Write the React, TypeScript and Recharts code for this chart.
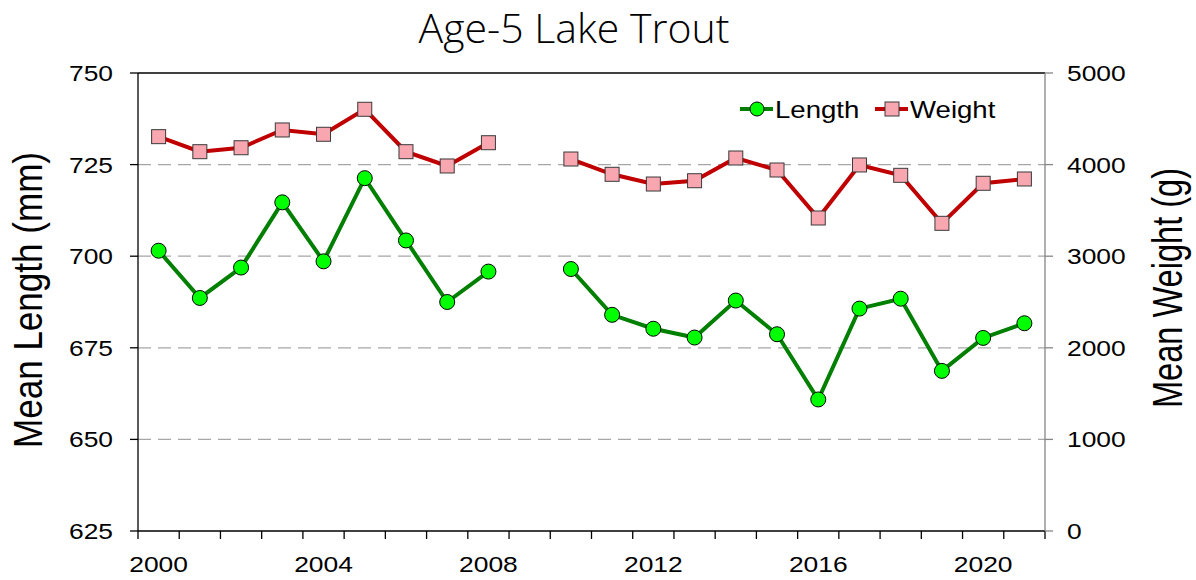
import React from "react";
import { LineChart, Line, XAxis, YAxis, CartesianGrid, ReferenceLine, Legend } from "recharts";

// values (2009 has no sample)
const years = [2000, 2001, 2002, 2003, 2004, 2005, 2006, 2007, 2008, 2009, 2010, 2011, 2012, 2013, 2014, 2015, 2016, 2017, 2018, 2019, 2020, 2021];
const lengthMm = [701.5, 688.6, 696.9, 714.7, 698.6, 721.3, 704.3, 687.5, 695.8, null, 696.5, 684.0, 680.2, 677.8, 687.9, 678.7, 660.9, 685.7, 688.4, 668.7, 677.7, 681.7];
const weightG = [4305, 4141, 4184, 4378, 4331, 4604, 4141, 3985, 4239, null, 4061, 3894, 3788, 3824, 4072, 3941, 3417, 3996, 3883, 3359, 3796, 3843];

const lengthTicks = [625, 650, 675, 700, 725, 750];
const weightTicks = [0, 1000, 2000, 3000, 4000, 5000];
const gridLengths = [650, 675, 700, 725];
const labelYears = [2000, 2004, 2008, 2012, 2016, 2020];

const data = years.map((year, i) => ({ year, length: lengthMm[i], weight: weightG[i] }));
// tick marks sit between the years, like a category axis
const yearEdges = [...years.map((y) => y - 0.5), years[years.length - 1] + 0.5];

const W = 1196;
const H = 580;
const MARGIN = { top: 73, right: 51, bottom: 9, left: 38 };
const AXIS_W = 100;
const PLOT_W = W - MARGIN.left - MARGIN.right - AXIS_W * 2;
const HALF_STEP = PLOT_W / years.length / 2;

const ARIAL = "'Liberation Sans', Arial, sans-serif";
const STRETCH = 1.2;
const LEN_LINE = "#007f00";
const LEN_DOT = "#00ff00";
const WT_LINE = "#c00000";
const WT_DOT = "#f8a6af";
const GRID = "#a6a6a6";
const RIGHT_AXIS = "#868686";

function YearTick(props: any) {
    const { x, y, payload } = props;
    const year = payload.value + 0.5;
    if (!labelYears.includes(year)) return <g />;
    return (
        <text transform={`translate(${x + HALF_STEP},${y + 33}) scale(${STRETCH},1)`} textAnchor="middle" fontSize={22} fontFamily={ARIAL} fill="#000">
            {year}
        </text>
    );
}

function LengthTick(props: any) {
    const { x, y, payload } = props;
    return (
        <text transform={`translate(${x - 17},${y + 8}) scale(${STRETCH},1)`} textAnchor="end" fontSize={22} fontFamily={ARIAL} fill="#000">
            {payload.value}
        </text>
    );
}

function WeightTick(props: any) {
    const { x, y, payload } = props;
    return (
        <text transform={`translate(${x + 14},${y + 8}) scale(${STRETCH},1)`} textAnchor="start" fontSize={22} fontFamily={ARIAL} fill="#000">
            {payload.value}
        </text>
    );
}

function SquareDot(props: any) {
    const { cx, cy, index } = props;
    if (cx == null || cy == null) return <g key={`sq-${index}`} />;
    return <rect key={`sq-${index}`} x={cx - 7} y={cy - 7} width={14} height={14} fill={WT_DOT} stroke="#3a3a3a" strokeWidth={1} />;
}

function LegendBox() {
    return (
        <svg width={290} height={40}>
            <line x1={10} x2={43} y1={19} y2={19} stroke={LEN_LINE} strokeWidth={4} />
            <circle cx={27} cy={19} r={7} fill={LEN_DOT} stroke="#000" strokeWidth={1} />
            <text transform={`translate(45,27.5) scale(${STRETCH},1)`} fontSize={23} fontFamily={ARIAL} fill="#000">Length</text>
            <line x1={145} x2={178} y1={19} y2={19} stroke={WT_LINE} strokeWidth={4} />
            <rect x={155} y={12} width={14} height={14} fill={WT_DOT} stroke="#3a3a3a" strokeWidth={1} />
            <text transform={`translate(180,27.5) scale(${STRETCH},1)`} fontSize={23} fontFamily={ARIAL} fill="#000">Weight</text>
        </svg>
    );
}

export default function App() {
    return (
        <div style={{ position: "absolute", left: 0, top: 0, width: W, height: H, background: "#fff" }}>
            <LineChart width={W} height={H} data={data} margin={MARGIN}>
                <CartesianGrid yAxisId="len" vertical={false} horizontalValues={gridLengths} stroke={GRID} strokeDasharray="13 7" strokeWidth={1.3} />
                <XAxis
                    dataKey="year"
                    type="number"
                    domain={[yearEdges[0], yearEdges[yearEdges.length - 1]]}
                    ticks={yearEdges}
                    interval={0}
                    height={40}
                    tickSize={8}
                    tickMargin={0}
                    axisLine={{ stroke: "#000", strokeWidth: 1.3 }}
                    tickLine={{ stroke: "#000", strokeWidth: 1.3 }}
                    tick={<YearTick />}
                />
                <YAxis
                    yAxisId="len"
                    domain={[625, 750]}
                    ticks={lengthTicks}
                    interval={0}
                    width={AXIS_W}
                    tickSize={8}
                    tickMargin={0}
                    axisLine={{ stroke: "#000", strokeWidth: 1.3 }}
                    tickLine={{ stroke: "#000", strokeWidth: 1.3 }}
                    tick={<LengthTick />}
                />
                <YAxis
                    yAxisId="wt"
                    orientation="right"
                    domain={[0, 5000]}
                    ticks={weightTicks}
                    interval={0}
                    width={AXIS_W}
                    tickSize={8}
                    tickMargin={0}
                    axisLine={{ stroke: RIGHT_AXIS, strokeWidth: 1.3 }}
                    tickLine={{ stroke: RIGHT_AXIS, strokeWidth: 1.3 }}
                    tick={<WeightTick />}
                />
                <ReferenceLine yAxisId="len" y={750} stroke="#000" strokeWidth={1.3} />
                <Legend
                    layout="horizontal"
                    verticalAlign="middle"
                    align="center"
                    content={<LegendBox />}
                    wrapperStyle={{ top: 90, left: 730, width: 290, height: 40 }}
                />
                <Line
                    yAxisId="len"
                    dataKey="length"
                    name="Length"
                    stroke={LEN_LINE}
                    strokeWidth={4}
                    dot={{ r: 7.5, fill: LEN_DOT, stroke: "#000", strokeWidth: 1 }}
                    activeDot={false}
                    connectNulls={false}
                    isAnimationActive={false}
                />
                <Line
                    yAxisId="wt"
                    dataKey="weight"
                    name="Weight"
                    stroke={WT_LINE}
                    strokeWidth={4}
                    dot={<SquareDot />}
                    activeDot={false}
                    connectNulls={false}
                    isAnimationActive={false}
                />
            </LineChart>
            <svg width={W} height={H} style={{ position: "absolute", left: 0, top: 0, pointerEvents: "none" }}>
                <text x={574} y={43} textAnchor="middle" fontSize={41} fontWeight={300} fontFamily="'Open Sans', sans-serif" fill="#000">
                    Age-5 Lake Trout
                </text>
                <text transform={`translate(42,300) scale(${STRETCH},1) rotate(-90)`} textAnchor="middle" fontSize={34} fontFamily={ARIAL} fill="#000" textLength={296} lengthAdjust="spacingAndGlyphs">
                    Mean Length (mm)
                </text>
                <text transform={`translate(1182,288) scale(${STRETCH},1) rotate(-90)`} textAnchor="middle" fontSize={35} fontFamily={ARIAL} fill="#000" textLength={240} lengthAdjust="spacingAndGlyphs">
                    Mean Weight (g)
                </text>
            </svg>
        </div>
    );
}
